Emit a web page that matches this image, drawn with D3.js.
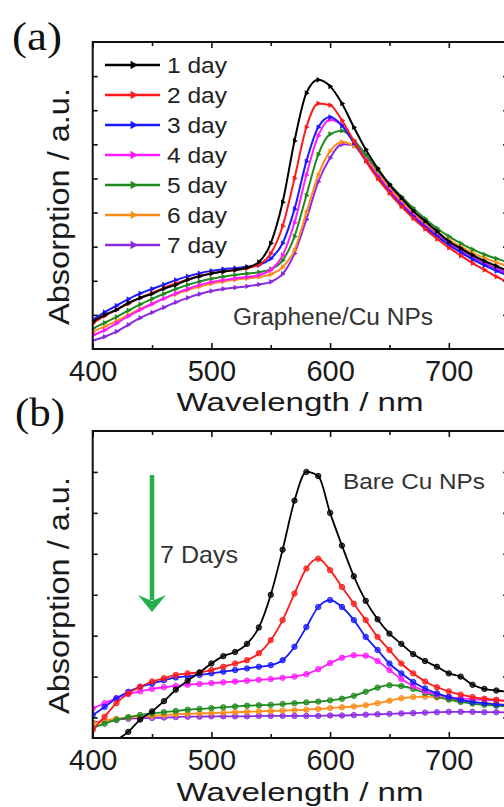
<!DOCTYPE html>
<html><head><meta charset="utf-8">
<script src="https://cdn.jsdelivr.net/npm/d3@7/dist/d3.min.js"></script>
<style>body{margin:0;background:#fff}svg{display:block}</style>
</head><body><svg id="c" width="504" height="807"></svg>
<script>
// ---------- data ----------
const wavelengths = [400,410,420,430,440,450,460,470,480,490,500,510,520,530,540,550,560,570,580,590,600,610,620,630,640,650,660,670,680,690,700,710,720,730,740,750];
const dayLabels = ["1 day","2 day","3 day","4 day","5 day","6 day","7 day"];
const xMajorTicks = [400,500,600,700];
const xMinorTicks = [450,550,650,750];
const yTicksA = [0.1,0.2,0.3,0.4,0.5,0.6,0.7,0.8];
const yTicksB = [0,0.1,0.2,0.3,0.4,0.5,0.6];

// (a) Graphene/Cu NPs
const grapheneDay1 = [.08,.10,.115,.135,.15,.162,.177,.188,.203,.213,.221,.227,.232,.239,.255,.31,.43,.61,.75,.789,.77,.72,.65,.585,.53,.482,.443,.405,.375,.345,.315,.295,.275,.258,.243,.228];
const grapheneDay2 = [.075,.097,.115,.133,.15,.164,.179,.192,.204,.214,.222,.227,.231,.237,.247,.28,.36,.50,.65,.72,.715,.67,.61,.552,.50,.457,.418,.383,.352,.323,.297,.274,.252,.232,.212,.195];
const grapheneDay3 = [.085,.108,.127,.146,.163,.176,.189,.202,.213,.222,.229,.234,.237,.241,.246,.265,.31,.41,.55,.65,.68,.655,.605,.552,.503,.46,.422,.388,.357,.33,.305,.283,.263,.245,.229,.215];
const grapheneDay4 = [.04,.055,.075,.096,.115,.132,.148,.163,.176,.188,.196,.202,.207,.211,.217,.232,.275,.37,.51,.625,.672,.655,.605,.555,.508,.465,.427,.392,.36,.332,.307,.285,.265,.247,.232,.218];
const grapheneDay5 = [.06,.077,.094,.113,.131,.147,.162,.176,.188,.198,.206,.212,.217,.221,.225,.234,.26,.33,.45,.57,.63,.64,.612,.57,.525,.484,.447,.413,.382,.354,.33,.31,.292,.277,.265,.254];
const grapheneDay6 = [.05,.066,.082,.1,.118,.133,.148,.161,.173,.183,.192,.198,.203,.207,.211,.219,.24,.29,.40,.51,.58,.607,.595,.56,.515,.473,.435,.40,.37,.343,.32,.30,.282,.267,.254,.243];
const grapheneDay7 = [.025,.036,.051,.071,.091,.107,.122,.137,.15,.161,.17,.176,.18,.184,.189,.197,.22,.28,.38,.49,.56,.60,.598,.562,.518,.475,.435,.398,.365,.337,.312,.29,.27,.252,.236,.222];

// (b) Bare Cu NPs
const bareDay1 = [-.09,-.07,-.055,-.035,-.005,.015,.04,.068,.09,.11,.132,.15,.16,.18,.22,.30,.41,.53,.60,.59,.50,.42,.345,.285,.24,.205,.18,.155,.138,.124,.108,.10,.08,.07,.066,.063];
const bareDay2 = [-.03,.002,.035,.059,.075,.088,.096,.104,.108,.11,.116,.124,.132,.14,.157,.189,.238,.303,.364,.388,.36,.319,.278,.238,.197,.165,.132,.108,.088,.074,.064,.056,.05,.046,.043,.04];
const bareDay3 = [.006,.026,.047,.063,.075,.083,.091,.098,.101,.104,.108,.112,.116,.12,.124,.128,.14,.173,.221,.27,.287,.27,.238,.197,.165,.132,.108,.087,.071,.059,.05,.043,.038,.035,.032,.03];
const bareDay4 = [.022,.035,.047,.057,.064,.07,.074,.077,.08,.082,.084,.086,.088,.09,.092,.094,.097,.10,.106,.118,.133,.146,.152,.151,.138,.116,.094,.077,.064,.056,.05,.047,.045,.043,.042,.041];
const bareDay5 = [-.026,-.015,-.006,.001,.006,.01,.013,.016,.019,.021,.023,.025,.027,.029,.03,.031,.033,.035,.037,.039,.042,.046,.053,.063,.073,.079,.077,.07,.06,.051,.044,.038,.034,.031,.029,.027];
const bareDay6 = [-.014,-.008,-.003,0,.002,.004,.006,.008,.009,.01,.011,.012,.013,.014,.015,.016,.017,.018,.019,.021,.023,.025,.027,.03,.035,.041,.047,.05,.051,.049,.045,.041,.038,.035,.033,.031];
const bareDay7 = [-.012,-.008,-.005,-.003,-.002,-.001,0,.001,.002,.002,.003,.003,.003,.003,.004,.004,.004,.004,.004,.004,.005,.005,.006,.007,.008,.009,.01,.011,.012,.013,.014,.014,.014,.013,.013,.012];

const grapheneSeries = [grapheneDay1,grapheneDay2,grapheneDay3,grapheneDay4,grapheneDay5,grapheneDay6,grapheneDay7];
const bareSeries = [bareDay1,bareDay2,bareDay3,bareDay4,bareDay5,bareDay6,bareDay7];

// ---------- styles ----------
const colors = ["#000000","#ff1a1a","#1a1aff","#ff1aff","#1f8a1f","#ff8c1a","#8a2be2"];
const FONT = "'Liberation Sans', Arial, Helvetica, sans-serif";

const svg = d3.select("#c");
svg.append("rect").attr("width",504).attr("height",807).attr("fill","#fff");

const X0 = 92.7, PXNM = 1.187;
const x = d3.scaleLinear().domain([400,750]).range([X0, X0 + 350*PXNM]);

function panel(opts){
  const {top,bottom,yDomain,yTicks,series,marker,id} = opts;
  const y = d3.scaleLinear().domain(yDomain).range([bottom, top]);
  const g = svg.append("g");
  g.append("clipPath").attr("id",id).append("rect")
    .attr("x",x.range()[0]).attr("y",top).attr("width",x.range()[1]-x.range()[0]).attr("height",bottom-top);
  const plot = g.append("g").attr("clip-path",`url(#${id})`);
  const line = d3.line().x((d,i)=>x(wavelengths[i])).y(d=>y(d)).curve(d3.curveMonotoneX);
  for (let k = series.length-1; k >= 0; k--) {
    const s = series[k];
    plot.append("path").attr("d",line(s)).attr("fill","none")
      .attr("stroke",colors[k]).attr("stroke-width",opts.lw).attr("stroke-linejoin","round");
    if (marker === "tri") {
      plot.selectAll(null).data(s).enter().append("path")
        .attr("d",d3.symbol().type(d3.symbolTriangle).size(14)())
        .attr("transform",(d,i)=>`translate(${x(wavelengths[i])},${y(d)}) rotate(90)`)
        .attr("fill",colors[k]);
    } else {
      plot.selectAll(null).data(s).enter().append("circle")
        .attr("cx",(d,i)=>x(wavelengths[i])).attr("cy",d=>y(d)).attr("r",2.7)
        .attr("fill",colors[k]).attr("fill-opacity",0.7)
        .attr("stroke",colors[k]).attr("stroke-width",0.9);
    }
  }
  // axes (inward ticks)
  const axB = g.append("g").attr("transform",`translate(0,${bottom})`)
    .call(d3.axisBottom(x).tickValues(xMajorTicks).tickSize(-6).tickPadding(11).tickFormat(d3.format("d")));
  axB.select(".domain").remove();
  axB.selectAll("text").attr("font-family",FONT).attr("font-size",29).attr("fill","#1a1a1a");
  const axBm = g.append("g").attr("transform",`translate(0,${bottom})`)
    .call(d3.axisBottom(x).tickValues(xMinorTicks).tickSize(-4).tickFormat(""));
  axBm.select(".domain").remove();
  const axT = g.append("g").attr("transform",`translate(0,${top})`)
    .call(d3.axisTop(x).tickValues(xMajorTicks).tickSize(-6).tickFormat(""));
  axT.select(".domain").remove();
  const axTm = g.append("g").attr("transform",`translate(0,${top})`)
    .call(d3.axisTop(x).tickValues(xMinorTicks).tickSize(-4).tickFormat(""));
  axTm.select(".domain").remove();
  const axL = g.append("g").attr("transform",`translate(${x.range()[0]},0)`)
    .call(d3.axisLeft(y).tickValues(yTicks).tickSize(-5).tickFormat(""));
  axL.select(".domain").remove();
  const axR = g.append("g").attr("transform",`translate(${x.range()[1]},0)`)
    .call(d3.axisRight(y).tickValues(yTicks).tickSize(-5).tickFormat(""));
  axR.select(".domain").remove();
  g.selectAll(".tick line").attr("stroke","#111").attr("stroke-width",1.6);
  // frame
  g.append("rect").attr("x",x.range()[0]).attr("y",top)
    .attr("width",x.range()[1]-x.range()[0]).attr("height",bottom-top)
    .attr("fill","none").attr("stroke","#111").attr("stroke-width",2);
  // axis titles
  g.append("text").attr("x",300).attr("y",opts.xTitleY).attr("text-anchor","middle")
    .attr("font-family",FONT).attr("font-size",25).attr("fill","#1a1a1a")
    .attr("textLength",247).attr("lengthAdjust","spacingAndGlyphs").text("Wavelength / nm");
  const cy = (top+bottom)/2 + 11;
  g.append("text").attr("transform",`translate(69,${cy}) rotate(-90)`).attr("text-anchor","middle")
    .attr("font-family",FONT).attr("font-size",29).attr("fill","#1a1a1a")
    .attr("textLength",237).attr("lengthAdjust","spacingAndGlyphs").text("Absorption / a.u.");
  // panel label
  g.append("text").attr("x",opts.labelX).attr("y",opts.labelY)
    .attr("font-family","'Liberation Serif','Times New Roman',serif").attr("font-size",40)
    .attr("fill","#111").attr("textLength",50).attr("lengthAdjust","spacingAndGlyphs").text(opts.label);
  return {g,y};
}

const pa = panel({id:"clipA",top:42,bottom:349,yDomain:[0,0.9],yTicks:yTicksA,series:grapheneSeries,
  marker:"tri",lw:2,xTitleY:411,label:"(a)",labelX:12,labelY:50});
const pb = panel({id:"clipB",top:431,bottom:738,yDomain:[-0.05,0.7],yTicks:yTicksB,series:bareSeries,
  marker:"circle",lw:1.8,xTitleY:801,label:"(b)",labelX:15,labelY:426});

// legend (a)
const leg = pa.g.append("g");
dayLabels.forEach((lab,k)=>{
  const ly = 65 + k*30;
  leg.append("line").attr("x1",105).attr("x2",160).attr("y1",ly).attr("y2",ly)
    .attr("stroke",colors[k]).attr("stroke-width",2.4);
  leg.append("path").attr("d",d3.symbol().type(d3.symbolTriangle).size(30)())
    .attr("transform",`translate(133,${ly}) rotate(90)`).attr("fill",colors[k]);
  leg.append("text").attr("x",167).attr("y",ly+8).attr("font-family",FONT).attr("font-size",22)
    .attr("fill","#222").attr("textLength",60).attr("lengthAdjust","spacingAndGlyphs").text(lab);
});

// annotations
pa.g.append("text").attr("x",233).attr("y",325).attr("font-family",FONT).attr("font-size",23)
  .attr("fill","#333").attr("textLength",200).attr("lengthAdjust","spacingAndGlyphs").text("Graphene/Cu NPs");
pb.g.append("text").attr("x",343).attr("y",489).attr("font-family",FONT).attr("font-size",22)
  .attr("fill","#333").attr("textLength",142).attr("lengthAdjust","spacingAndGlyphs").text("Bare Cu NPs");
pb.g.append("text").attr("x",160).attr("y",563).attr("font-family",FONT).attr("font-size",24)
  .attr("fill","#333").attr("textLength",78).attr("lengthAdjust","spacingAndGlyphs").text("7 Days");
// green arrow
pb.g.append("line").attr("x1",152).attr("x2",152).attr("y1",475).attr("y2",600)
  .attr("stroke","#22b04b").attr("stroke-width",4.5);
pb.g.append("path").attr("d",`M138,595 L152,612 L166,595 L152,601 Z`).attr("fill","#22b04b");
</script></body></html>
